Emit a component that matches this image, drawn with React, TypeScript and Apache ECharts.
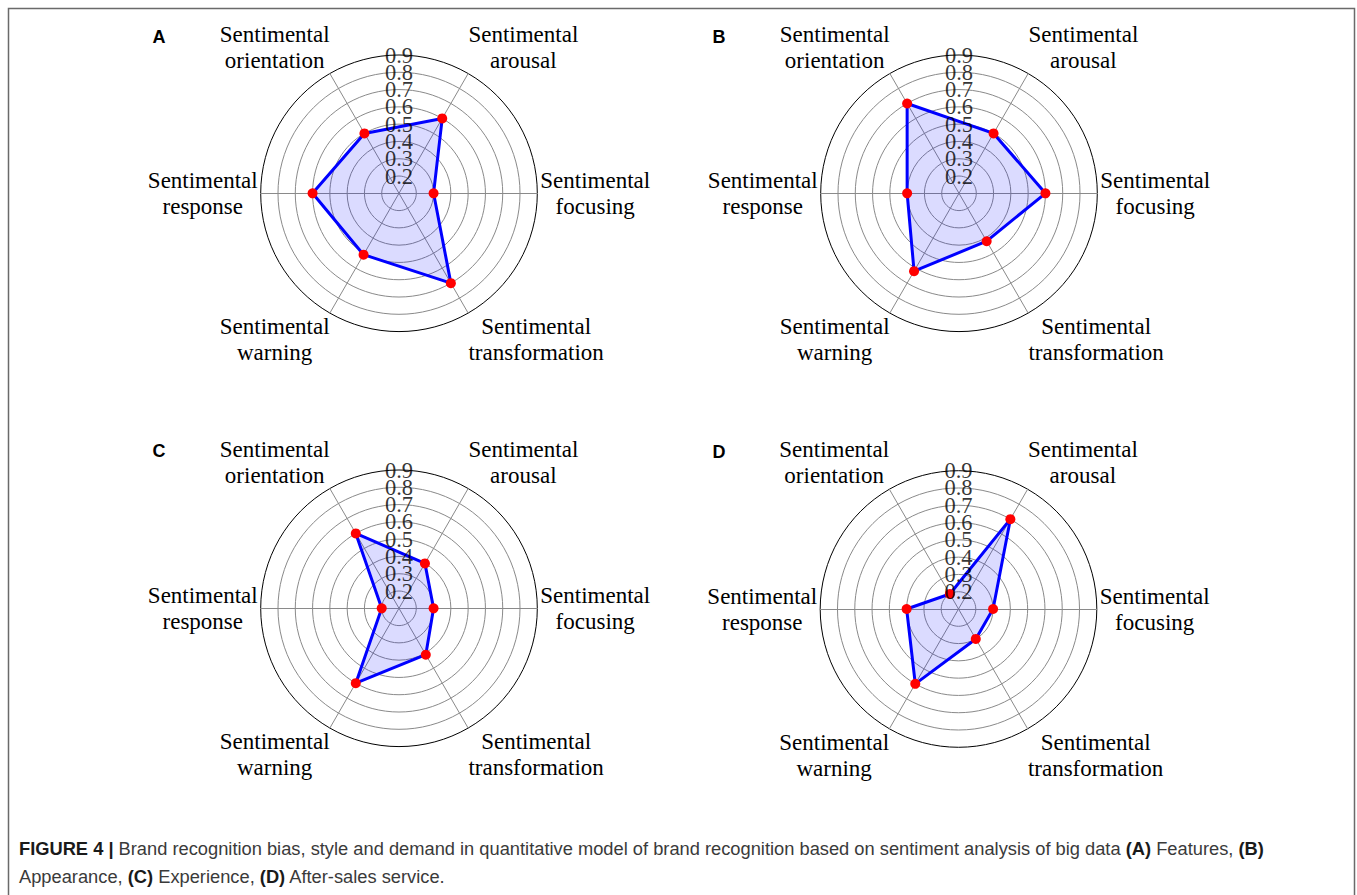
import React, { useEffect, useRef } from "react";
import * as echarts from "echarts";

// ---------- data ----------
const indicatorNames = [
  "focusing",
  "arousal",
  "orientation",
  "response",
  "warning",
  "transformation",
];
const namePrefix = "Sentimental";
const panelLetters = ["A", "B", "C", "D"];
const featuresValues = [0.3, 0.6, 0.5, 0.6, 0.51, 0.7];
const appearanceValues = [0.6, 0.5, 0.7, 0.4, 0.62, 0.42];
const experienceValues = [0.3, 0.4, 0.6, 0.2, 0.6, 0.41];
const afterSalesValues = [0.3, 0.7, 0.2, 0.4, 0.6, 0.3];
const panelValues = [featuresValues, appearanceValues, experienceValues, afterSalesValues];
const axisMin = 0.1;
const axisMax = 0.9;
const axisStep = 0.1;
const tickLabels = ["0.2", "0.3", "0.4", "0.5", "0.6", "0.7", "0.8", "0.9"];
const captionLine1 = [
  ["b", "FIGURE 4 |"],
  ["r", " Brand recognition bias, style and demand in quantitative model of brand recognition based on sentiment analysis of big data "],
  ["b", "(A)"],
  ["r", " Features, "],
  ["b", "(B)"],
];
const captionLine2 = [
  ["r", "Appearance, "],
  ["b", "(C)"],
  ["r", " Experience, "],
  ["b", "(D)"],
  ["r", " After-sales service."],
];

// ---------- layout ----------
const W = 1357;
const H = 895;
const R = 138.3;
const centers: [number, number][] = [
  [399, 193.3],
  [959, 193.3],
  [399, 608.3],
  [958.5, 609],
];
const letterPos: [number, number][] = [
  [159, 37],
  [719, 37],
  [159, 451],
  [719, 452],
];
const startAngle = 0;
const SERIF = "'Liberation Serif', 'DejaVu Serif', serif";
const SANS = "'Liberation Sans', Arial, sans-serif";

export default function App() {
  const ref = useRef<HTMLDivElement>(null);

  useEffect(() => {
    if (!ref.current) return;
    const chart = echarts.init(ref.current, undefined, { renderer: "svg" });
    const n = indicatorNames.length;
    const splitNumber = Math.round((axisMax - axisMin) / axisStep);
    const ringColors: string[] = [];
    for (let i = 0; i <= splitNumber; i++) ringColors.push(i === splitNumber ? "#000000" : "#8a8a8a");

    const radar = centers.map((c) => ({
      center: c,
      radius: R,
      startAngle,
      splitNumber,
      shape: "circle",
      indicator: indicatorNames.map((nm) => ({ name: nm, min: axisMin, max: axisMax })),
      axisName: { show: false },
      axisLine: { lineStyle: { color: "#8a8a8a", width: 1 } },
      axisTick: { show: false },
      axisLabel: { show: false },
      splitLine: { lineStyle: { color: ringColors, width: 1 } },
      splitArea: { show: false },
    }));

    const polar = centers.map((c) => ({ center: c, radius: R }));
    const angleAxis = centers.map((_, i) => ({
      polarIndex: i,
      show: false,
      startAngle: 90,
      min: 0,
      max: 360,
    }));
    const radiusAxis = centers.map((_, i) => ({
      polarIndex: i,
      type: "value",
      min: axisMin,
      max: axisMax,
      interval: axisStep,
      show: false,
    }));

    const radarSeries = panelValues.map((vals, i) => ({
      type: "radar",
      radarIndex: i,
      symbol: "circle",
      symbolSize: 10,
      lineStyle: { color: "#0000ff", width: 3 },
      areaStyle: { color: "rgba(0,0,255,0.2)" },
      itemStyle: { color: "#ff0000", borderWidth: 0 },
      z: 2,
      data: [{ value: vals, name: panelLetters[i] }],
    }));

    const tickSeries = centers.map((_, i) => ({
      type: "scatter",
      coordinateSystem: "polar",
      polarIndex: i,
      symbolSize: 0,
      silent: true,
      z: 5,
      label: {
        show: true,
        position: "inside",
        formatter: (p: any) => p.data[2],
        color: "#000",
        textBorderWidth: 0,
        textBorderColor: "transparent",
        fontFamily: SERIF,
        fontSize: 22.5,
      },
      data: tickLabels.map((t) => [parseFloat(t), 0, t]),
    }));

    const graphic: any[] = [];
    graphic.push({
      type: "rect",
      shape: { x: 8.5, y: 8.5, width: 1346, height: 900 },
      style: { fill: "none", stroke: "#6a6a6a", lineWidth: 1.5 },
      silent: true,
    });
    centers.forEach((c, pi) => {
      indicatorNames.forEach((nm, k) => {
        const ang = ((startAngle + (360 / n) * k) * Math.PI) / 180;
        const cos = Math.cos(ang);
        const sin = Math.sin(ang);
        const horiz = Math.abs(sin) < 0.01;
        const gap = horiz ? 3 : 0.5;
        const x = c[0] + (R + gap) * cos;
        const y = c[1] - (R + gap) * sin;
        const align = cos > 0.01 ? "left" : cos < -0.01 ? "right" : "center";
        const vAlign = sin > 0.01 ? "bottom" : sin < -0.01 ? "top" : "middle";
        graphic.push({
          type: "text",
          x,
          y,
          silent: true,
          style: {
            text: `{n|${namePrefix}}\n{n|${nm}}`,
            align,
            verticalAlign: vAlign,
            textAlign: align,
            textVerticalAlign: vAlign,
            rich: {
              n: {
                align: "center",
                fontFamily: SERIF,
                fontSize: 23,
                lineHeight: 26,
                fill: "#000",
                color: "#000",
              },
            },
          },
        });
      });
      graphic.push({
        type: "text",
        x: letterPos[pi][0],
        y: letterPos[pi][1],
        silent: true,
        style: {
          text: panelLetters[pi],
          align: "center",
          verticalAlign: "middle",
          textAlign: "center",
          textVerticalAlign: "middle",
          fontFamily: SANS,
          fontWeight: "bold",
          fontSize: 18,
          fill: "#000",
        },
      });
    });

    const toRich = (parts: string[][]) => parts.map(([k, t]) => `{${k}|${t}}`).join("");
    graphic.push({
      type: "text",
      x: 19,
      y: 862,
      silent: true,
      style: {
        text: toRich(captionLine1) + "\n" + toRich(captionLine2),
        align: "left",
        verticalAlign: "middle",
        textAlign: "left",
        textVerticalAlign: "middle",
        rich: {
          r: { fontFamily: SANS, fontSize: 18.3, lineHeight: 28, fill: "#3a3a3a", color: "#3a3a3a" },
          b: { fontFamily: SANS, fontSize: 18.3, fontWeight: "bold", lineHeight: 28, fill: "#1a1a1a", color: "#1a1a1a" },
        },
      },
    });

    chart.setOption({
      animation: false,
      backgroundColor: "#ffffff",
      radar,
      polar,
      angleAxis,
      radiusAxis,
      series: [...radarSeries, ...tickSeries],
      graphic,
    } as any);

    return () => chart.dispose();
  }, []);

  return (
    <div
      ref={ref}
      style={{ position: "fixed", left: 0, top: 0, width: W, height: H, background: "#fff" }}
    />
  );
}
